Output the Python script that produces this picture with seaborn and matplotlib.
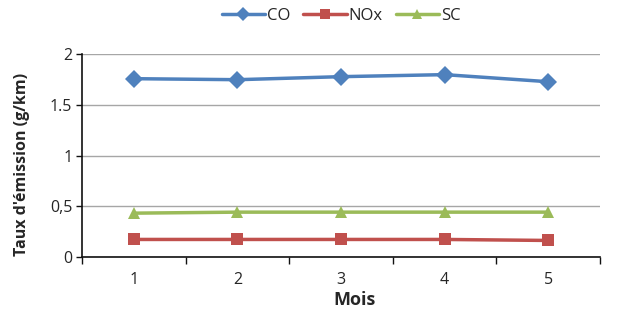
import pandas as pd
import numpy as np
import matplotlib.pyplot as plt
import seaborn as sns

sns.set_theme(style="white")
plt.rcParams['font.family'] = ['Open Sans', 'DejaVu Sans']

mois = [1, 2, 3, 4, 5]
co = [1.76, 1.75, 1.78, 1.80, 1.73]
nox = [0.17, 0.17, 0.17, 0.17, 0.16]
sc = [0.43, 0.44, 0.44, 0.44, 0.44]

df = pd.DataFrame({'Mois': mois * 3,
                   'val': co + nox + sc,
                   'serie': ['CO'] * 5 + ['NOx'] * 5 + ['SC'] * 5})

couleurs = {'CO': '#4F81BD', 'NOx': '#C0504D', 'SC': '#9BBB59'}
marqueurs = {'CO': 'D', 'NOx': 's', 'SC': '^'}

fig = plt.figure(figsize=(6.31, 3.22), dpi=100)
ax = fig.add_axes([0.13, 0.203, 0.821, 0.628])

sns.lineplot(data=df, x='Mois', y='val', hue='serie', style='serie',
             palette=couleurs, markers=marqueurs, dashes=False,
             linewidth=2.5, markersize=9, markeredgewidth=0, ax=ax)

ax.set_xlim(0.5, 5.5)
ax.set_ylim(0, 2)
ax.set_yticks([0, 0.5, 1, 1.5, 2])
ax.set_yticklabels(['0', '0,5', '1', '1.5', '2'], fontsize=11.5)
ax.set_xticks(mois)
ax.set_xticklabels([str(m) for m in mois], fontsize=11.5)
ax.set_xticks(np.arange(0.5, 6, 1), minor=True)
ax.tick_params(axis='x', which='major', length=0, pad=11)
ax.tick_params(axis='x', which='minor', length=5, width=1, color='#111111', direction='out', bottom=True)
ax.tick_params(axis='y', length=4, width=1, color='#111111', direction='out', left=True, pad=3)

ax.yaxis.grid(True, color='#A6A6A6', linewidth=1)
ax.set_axisbelow(True)
for s in ['top', 'right']:
    ax.spines[s].set_visible(False)
for s in ['left', 'bottom']:
    ax.spines[s].set_color('#111111')
    ax.spines[s].set_linewidth(1.2)

ax.set_xlabel('Mois', fontsize=13, fontweight='bold')
ax.set_ylabel("Taux d'émission (g/km)", fontsize=11.5, fontweight='bold')
ax.xaxis.set_label_coords(0.525, -0.17)
ax.yaxis.set_label_coords(-0.1, 0.458)

h, l = ax.get_legend_handles_labels()
for hd in h:
    hd.set_markersize(7)
ax.legend(h, l, loc='upper center', bbox_to_anchor=(0.5, 1.305), ncol=3,
          frameon=False, fontsize=12, handlelength=2.6, columnspacing=0.8,
          handletextpad=0.1)

fig.savefig('out.png', dpi=100)
